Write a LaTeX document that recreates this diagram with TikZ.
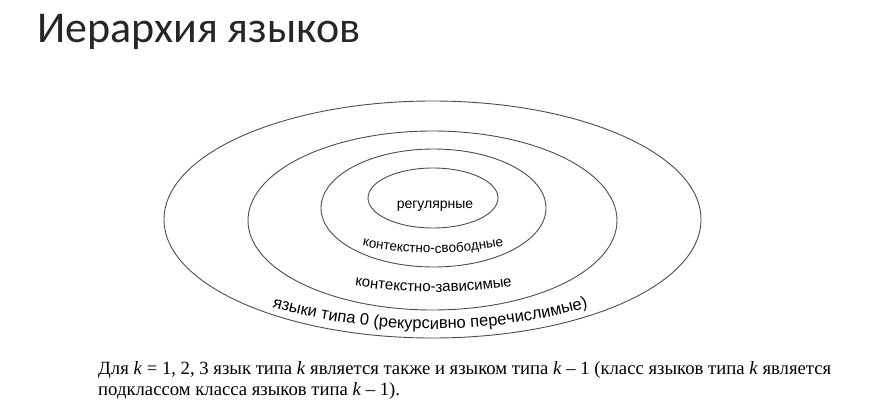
\documentclass[tikz,border=0pt]{standalone}
\usepackage{fontspec}
\setmainfont{Liberation Serif}
\newfontfamily\titlefont{Carlito}
\newfontfamily\labelfont{Liberation Sans}
\usetikzlibrary{decorations.text}
\tikzset{
  ring/.style={draw=black!70, line width=0.9pt},
  arclabel/.style={decorate, decoration={text along path, text align=center, text={#1}}},
  captionline/.style={anchor=base west, inner sep=0pt, font=\fontsize{18.7}{21}\selectfont},
}
\begin{document}
\begin{tikzpicture}[x=1pt,y=1pt]
\useasboundingbox (0,0) rectangle (877,400);
% title
\node[anchor=base west, inner sep=0pt, text=black!85, font=\titlefont\fontsize{44}{48}\selectfont] (title) at (37,357) {Иерархия языков};
% ellipse centres
\coordinate (c0) at (432.5,180.5);
\coordinate (c1) at (432.5,179.5);
\coordinate (c2) at (433.5,192);
\coordinate (c3) at (433,202);
\draw[ring] (c0) ellipse [x radius=268.5, y radius=118.5];
\draw[ring] (c1) ellipse [x radius=184.5, y radius=89.5];
\draw[ring] (c2) ellipse [x radius=112.5, y radius=59];
\draw[ring] (c3) ellipse [x radius=65, y radius=30];
% labels
\node[anchor=base, inner sep=0pt, font=\labelfont\fontsize{14}{16}\selectfont] (reg) at (435,192) {регулярные};
\coordinate (a2) at (433,500);
\coordinate (a1) at (433.5,618);
\coordinate (a0) at (430,659);
\path[arclabel={|\labelfont\fontsize{13.5}{15}\selectfont|контекстно-свободные}] (a2) ++(240:353) arc[start angle=240, end angle=300, radius=353];
\path[arclabel={|\labelfont\fontsize{15}{17}\selectfont|контекстно-зависимые}] (a1) ++(250:510) arc[start angle=250, end angle=290, radius=510];
\path[arclabel={|\labelfont\fontsize{16.5}{18}\selectfont|языки типа 0 (рекурсивно перечислимые)}] (a0) ++(245:588) arc[start angle=245, end angle=295, radius=588];
% caption
\node[captionline] (cap1) at (98,26) {Для \textit{k} = 1, 2, 3 язык типа \textit{k} является также и языком типа \textit{k} – 1 (класс языков типа \textit{k} является};
\node[captionline] (cap2) at (98,5) {подклассом класса языков типа \textit{k} – 1).};
\end{tikzpicture}
\end{document}
